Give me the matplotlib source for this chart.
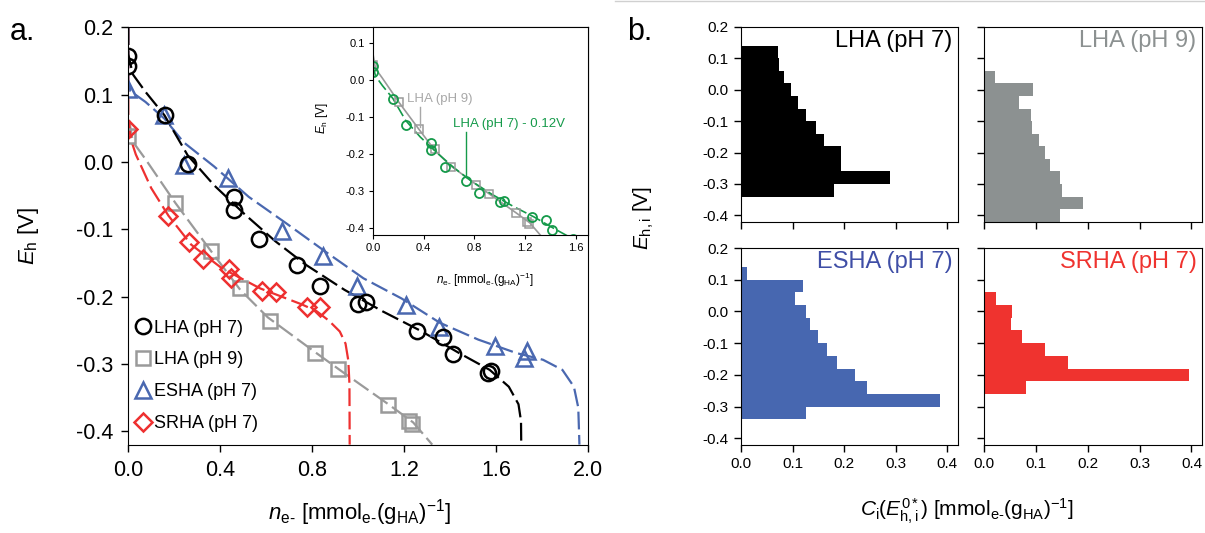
import matplotlib
matplotlib.use('Agg')
import matplotlib.pyplot as plt
import numpy as np
from matplotlib.lines import Line2D

plt.rcParams['font.family'] = ['Liberation Sans', 'DejaVu Sans']
plt.rcParams['mathtext.fontset'] = 'custom'
plt.rcParams['mathtext.rm'] = 'Liberation Sans'
plt.rcParams['mathtext.it'] = 'Liberation Sans:italic'
plt.rcParams['mathtext.bf'] = 'Liberation Sans:bold'
plt.rcParams['axes.unicode_minus'] = False

# ---- panel a: titration data (n_e- vs Eh) ----
lha7_x = [0.0, 0.0, 0.158, 0.258, 0.461, 0.461, 0.570, 0.732, 0.836, 1.001, 1.036, 1.256, 1.369, 1.414, 1.563, 1.577]
lha7_y = [0.157, 0.142, 0.069, -0.003, -0.052, -0.071, -0.115, -0.153, -0.185, -0.211, -0.208, -0.251, -0.260, -0.286, -0.314, -0.311]
lha9_x = [0.0, 0.205, 0.361, 0.487, 0.617, 0.813, 0.913, 1.131, 1.219, 1.236]
lha9_y = [0.039, -0.061, -0.133, -0.187, -0.236, -0.284, -0.308, -0.361, -0.385, -0.390]
esha_x = [0.0, 0.155, 0.241, 0.434, 0.670, 0.848, 0.995, 1.209, 1.352, 1.597, 1.735, 1.721]
esha_y = [0.108, 0.070, -0.004, -0.024, -0.102, -0.140, -0.184, -0.213, -0.245, -0.273, -0.281, -0.291]
srha_x = [0.0, 0.175, 0.263, 0.324, 0.437, 0.449, 0.582, 0.644, 0.778, 0.836]
srha_y = [0.049, -0.080, -0.119, -0.145, -0.159, -0.173, -0.192, -0.194, -0.215, -0.215]

# fitted curves
lha7_fit_x = [0, 0, 0.02, 0.075, 0.158, 0.258, 0.374, 0.507, 0.64, 0.773, 0.94, 1.106, 1.272, 1.439, 1.572, 1.655, 1.697, 1.708, 1.709]
lha7_fit_y = [0.2, 0.16, 0.13, 0.104, 0.069, 0.01, -0.035, -0.078, -0.118, -0.153, -0.19, -0.222, -0.251, -0.284, -0.309, -0.334, -0.36, -0.385, -0.42]
lha9_fit_x = [0, 0, 0.02, 0.075, 0.205, 0.361, 0.487, 0.607, 0.806, 0.94, 1.131, 1.239, 1.322]
lha9_fit_y = [0.2, 0.07, 0.03, 0.004, -0.061, -0.133, -0.19, -0.231, -0.281, -0.314, -0.36, -0.387, -0.42]
esha_fit_x = [0, 0, 0.01, 0.075, 0.158, 0.241, 0.374, 0.524, 0.69, 0.856, 1.023, 1.189, 1.355, 1.522, 1.688, 1.804, 1.888, 1.938, 1.957, 1.962]
esha_fit_y = [0.2, 0.12, 0.105, 0.089, 0.064, 0.029, -0.007, -0.052, -0.092, -0.133, -0.173, -0.203, -0.239, -0.264, -0.284, -0.294, -0.309, -0.334, -0.365, -0.42]
srha_fit_x = [0, 0, 0.01, 0.033, 0.1, 0.175, 0.274, 0.407, 0.574, 0.757, 0.82, 0.873, 0.92, 0.945, 0.957, 0.962, 0.963]
srha_fit_y = [0.2, 0.07, 0.035, 0.011, -0.039, -0.08, -0.123, -0.158, -0.188, -0.212, -0.222, -0.236, -0.252, -0.27, -0.295, -0.33, -0.42]
shift = 0.12  # LHA (pH 7) - 0.12 V in the inset

# ---- panel b: capacity distributions, bins of 0.04 V ----
lha7_bins = [0.12, 0.08, 0.04, 0.0, -0.04, -0.08, -0.12, -0.16, -0.20, -0.24, -0.28, -0.32]
lha7_c = [0.071, 0.073, 0.083, 0.096, 0.110, 0.125, 0.145, 0.160, 0.194, 0.194, 0.288, 0.180]
lha9_bins = [0.04, 0.0, -0.04, -0.08, -0.12, -0.16, -0.20, -0.24, -0.28, -0.32, -0.36, -0.40]
lha9_c = [0.022, 0.095, 0.068, 0.091, 0.093, 0.106, 0.118, 0.127, 0.146, 0.150, 0.191, 0.146]
esha_bins = [0.12, 0.08, 0.04, 0.0, -0.04, -0.08, -0.12, -0.16, -0.20, -0.24, -0.28, -0.32]
esha_c = [0.012, 0.121, 0.105, 0.126, 0.134, 0.150, 0.167, 0.185, 0.220, 0.244, 0.385, 0.126]
srha_bins = [0.04, 0.0, -0.04, -0.08, -0.12, -0.16, -0.20, -0.24]
srha_c = [0.023, 0.054, 0.052, 0.074, 0.118, 0.162, 0.396, 0.081]

eh_ticks = [-0.4, -0.3, -0.2, -0.1, 0.0, 0.1, 0.2]
eh_labels = ['-0.4', '-0.3', '-0.2', '-0.1', '0.0', '0.1', '0.2']
n_ticks = [0.0, 0.4, 0.8, 1.2, 1.6, 2.0]
n_labels = ['0.0', '0.4', '0.8', '1.2', '1.6', '2.0']
c_ticks = [0.0, 0.1, 0.2, 0.3, 0.4]
c_labels = ['0.0', '0.1', '0.2', '0.3', '0.4']

black = '#000000'
gray = '#9a9a9a'
blue = '#4a68b0'
red = '#ee3030'
green = '#159a4a'
hy = '\u2010'
xlab = r'$n_{\mathrm{e' + hy + r'}}$ [mmol$_{\mathrm{e' + hy + r'}}$(g$_{\mathrm{HA}}$)$^{-1}$]'

fig = plt.figure(figsize=(12.05, 5.33), dpi=100)

# ---------- panel a ----------
ax = fig.add_axes([0.1064, 0.1658, 0.3817, 0.7832])
dash = (8, 2.5)
ax.plot(lha9_fit_x, lha9_fit_y, color=gray, lw=1.6, dashes=dash)
ax.plot(srha_fit_x, srha_fit_y, color=red, lw=1.6, dashes=dash)
ax.plot(esha_fit_x, esha_fit_y, color=blue, lw=1.6, dashes=dash)
ax.plot(lha7_fit_x, lha7_fit_y, color=black, lw=1.6, dashes=dash)

ms = 11
ax.plot(lha9_x, lha9_y, 's', ms=10, mfc='none', mec=gray, mew=1.8, label='LHA (pH 9)')
ax.plot(srha_x, srha_y, 'D', ms=9.5, mfc='none', mec=red, mew=1.8, label='SRHA (pH 7)')
ax.plot(esha_x, esha_y, '^', ms=ms, mfc='none', mec=blue, mew=1.8, label='ESHA (pH 7)')
ax.plot(lha7_x, lha7_y, 'o', ms=ms, mfc='none', mec=black, mew=1.8, label='LHA (pH 7)')

ax.set_xlim(0, 2.0)
ax.set_ylim(-0.42, 0.2)
ax.set_xticks(n_ticks, n_labels)
ax.set_yticks(eh_ticks, eh_labels)
ax.tick_params(direction='out', length=5, width=1, labelsize=15.5, pad=6)
ax.set_xlabel(xlab, fontsize=16)
ax.set_ylabel(r'$E_\mathrm{h}$ [V]', fontsize=16)
ax.xaxis.set_label_coords(0.503, -0.125)
ax.yaxis.set_label_coords(-0.19, 0.5)

handles, labels = ax.get_legend_handles_labels()
order = [3, 0, 2, 1]
ax.legend([handles[i] for i in order], [labels[i] for i in order],
          loc='lower left', bbox_to_anchor=(-0.012, 0.0), frameon=False,
          fontsize=13, handlelength=0.9, handletextpad=0.15, labelspacing=0.82,
          borderaxespad=0.3)

# inset
axi = fig.add_axes([0.3095, 0.559, 0.1786, 0.390])
axi.plot(lha9_fit_x, lha9_fit_y, color=gray, lw=1.2)
axi.plot(lha7_fit_x, np.array(lha7_fit_y) - shift, color=green, lw=1.2, dashes=(7, 2.5))
axi.plot(lha9_x, lha9_y, 's', ms=6, mfc='none', mec=gray, mew=1.1)
axi.plot(lha7_x, np.array(lha7_y) - shift, 'o', ms=6.5, mfc='none', mec=green, mew=1.3)
axi.set_xlim(0, 1.7)
axi.set_ylim(-0.42, 0.142)
axi.set_xticks(n_ticks[:-1], n_labels[:-1])
axi.set_yticks(eh_ticks[:-1], eh_labels[:-1])
axi.tick_params(direction='out', length=3, width=0.8, labelsize=8, pad=3)
axi.set_xlabel(xlab, fontsize=8.5)
axi.set_ylabel(r'$E_\mathrm{h}$ [V]', fontsize=8.5)
axi.xaxis.set_label_coords(0.52, -0.17)
axi.yaxis.set_label_coords(-0.2, 0.56)
axi.text(0.268, -0.051, 'LHA (pH 9)', color='#a8a8a8', fontsize=9.5, va='center')
axi.plot([0.368, 0.368], [-0.075, -0.128], color='#a8a8a8', lw=1)
axi.text(0.636, -0.120, 'LHA (pH 7) - 0.12V', color=green, fontsize=9.5, va='center')
axi.plot([0.736, 0.736], [-0.141, -0.263], color=green, lw=1)

# ---------- panel b ----------
panels = [
    ([0.615, 0.5841, 0.1798, 0.3656], lha7_bins, lha7_c, '#000000', '#000000', 'LHA (pH 7)'),
    ([0.8166, 0.5841, 0.1808, 0.3656], lha9_bins, lha9_c, '#8c9191', '#8c9191', 'LHA (pH 9)'),
    ([0.615, 0.1659, 0.1798, 0.3687], esha_bins, esha_c, '#4767b0', '#3f4ea6', 'ESHA (pH 7)'),
    ([0.8166, 0.1659, 0.1808, 0.3687], srha_bins, srha_c, '#ef332f', '#ef332f', 'SRHA (pH 7)'),
]
for k, (pos, bins, c, fc, tc, name) in enumerate(panels):
    b = fig.add_axes(pos)
    b.barh(bins, c, height=0.04, color=fc, edgecolor='none')
    b.set_xlim(0, 0.42)
    b.set_ylim(-0.42, 0.2)
    b.set_xticks(c_ticks, c_labels)
    b.set_yticks(eh_ticks, eh_labels)
    b.tick_params(direction='out', length=5, width=1, labelsize=11, pad=4)
    if k < 2:
        b.tick_params(labelbottom=False)
    if k % 2 == 1:
        b.tick_params(labelleft=False)
    b.text(0.975, 0.985, name, transform=b.transAxes, ha='right', va='top',
           fontsize=17, color=tc)

fig.text(0.534, 0.592, r'$E_{\mathrm{h,i}}$ [V]', rotation=90, ha='center', va='center', fontsize=15)
fig.text(0.802, 0.040, r'$C_\mathrm{i}(E^{0*}_{\mathrm{h,i}})$ [mmol$_{\mathrm{e' + hy + r'}}$(g$_{\mathrm{HA}}$)$^{-1}$]',
         ha='center', va='center', fontsize=15)

fig.text(0.0083, 0.925, 'a.', fontsize=22, va='baseline')
fig.text(0.52, 0.925, 'b.', fontsize=22, va='baseline')
fig.add_artist(Line2D([0.51, 1.0], [0.998, 0.998], color='#d0d0d0', lw=1))

fig.savefig('out.png', dpi=100)
